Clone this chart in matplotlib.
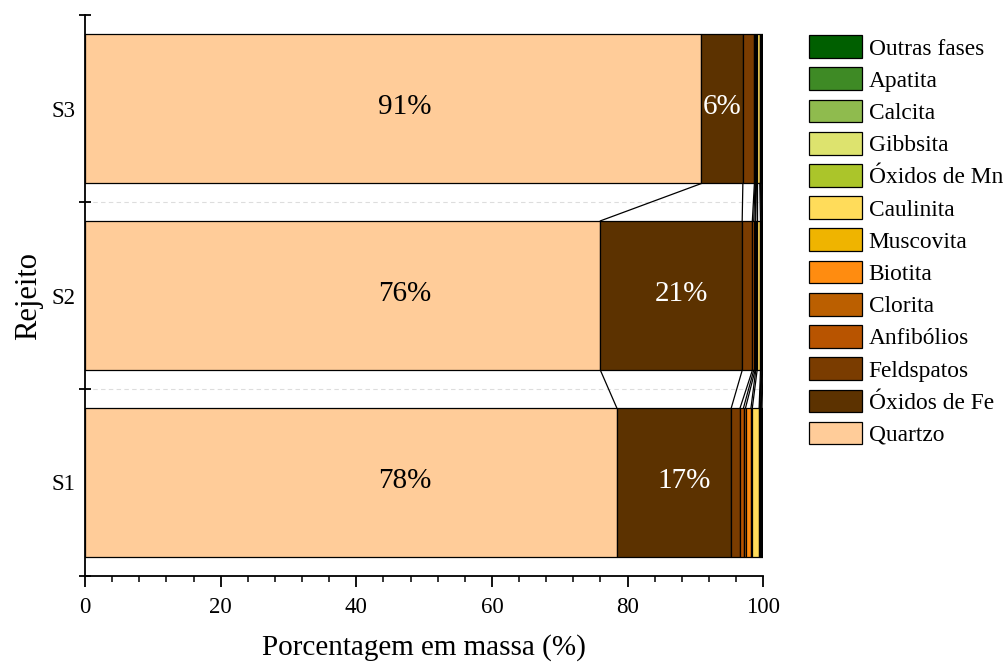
import numpy as np
import matplotlib
matplotlib.use("Agg")
import matplotlib.pyplot as plt

plt.rcParams['font.family'] = ['Liberation Serif', 'DejaVu Serif']

amostras = ["S1", "S2", "S3"]
fases = ["Quartzo", "Óxidos de Fe", "Feldspatos", "Anfibólios", "Clorita", "Biotita",
         "Muscovita", "Caulinita", "Óxidos de Mn", "Gibbsita", "Calcita", "Apatita", "Outras fases"]
cores = ["#FFCC99", "#5C3200", "#7A3C00", "#B85400", "#BB5F00", "#FF8C10",
         "#EFB400", "#FFDC5A", "#ABC52A", "#DDE36E", "#8FBB4E", "#3E8A25", "#005F00"]

# % em massa por fase (S1, S2, S3)
quartzo = [78.4, 76.0, 90.9]
oxidos_fe = [16.9, 20.9, 6.1]
feldspatos = [1.3, 1.5, 1.7]
anfibolios = [0.5, 0.2, 0.1]
clorita = [0.3, 0.2, 0.1]
biotita = [0.8, 0.1, 0.1]
muscovita = [0.2, 0.2, 0.1]
caulinita = [1.0, 0.5, 0.4]
oxidos_mn = [0.1, 0.1, 0.1]
gibbsita = [0.1, 0.1, 0.1]
calcita = [0.1, 0.1, 0.1]
apatita = [0.1, 0.1, 0.1]
outras = [0.2, 0.1, 0.1]

dados = [quartzo, oxidos_fe, feldspatos, anfibolios, clorita, biotita, muscovita,
         caulinita, oxidos_mn, gibbsita, calcita, apatita, outras]

fig = plt.figure(figsize=(10.07, 6.65), dpi=100)
ax = fig.add_axes([0.0844, 0.134, 0.6735, 0.843])

y = np.arange(len(amostras))
h = 0.8
left = np.zeros(len(amostras))
handles = []
for nome, vals, cor in zip(fases, dados, cores):
    vals = np.array(vals)
    b = ax.barh(y, vals, height=h, left=left, color=cor, edgecolor="black", linewidth=0.9, label=nome)
    handles.append(b)
    for i in range(len(amostras)):
        if vals[i] >= 5:
            if nome == "Quartzo":
                xt, tc = 47.2, "black"
            else:
                xt, tc = left[i] + vals[i] / 2, "white"
                if vals[i] > 10:
                    xt += 1.5
            ax.text(xt, y[i] + 0.01, "%d%%" % round(vals[i]), ha="center", va="center",
                    fontsize=21, color=tc)
    left = left + vals
    # linhas de ligacao entre barras
    for i in range(len(amostras) - 1):
        ax.plot([left[i], left[i + 1]], [y[i] + h / 2, y[i + 1] - h / 2], color="black", lw=0.9)

ax.set_xlim(0, 100)
ax.set_ylim(-0.5, 2.5)
for s in ["top", "right"]:
    ax.spines[s].set_visible(False)
ax.spines["left"].set_linewidth(1.3)
ax.spines["bottom"].set_linewidth(1.3)

ax.set_xticks(np.arange(0, 101, 20))
ax.set_xticks(np.arange(0, 101, 4), minor=True)
ax.tick_params(axis="x", which="major", length=8, width=1.3, direction="out", labelsize=16.5, pad=7)
ax.tick_params(axis="x", which="minor", length=4, width=1.1, direction="out")

ax.set_yticks([-0.5, 0.5, 1.5, 2.5])
ax.set_yticklabels([])
ax.set_yticks(y, amostras, minor=True)
ax.tick_params(axis="y", which="major", length=8, width=1.3, direction="inout")
ax.tick_params(axis="y", which="minor", length=0, labelsize=16.5, pad=7)

for g in [0.5, 1.5]:
    ax.axhline(g, color="#DDDDDD", lw=0.8, ls=(0, (4, 3)), zorder=0)

ax.set_xlabel("Porcentagem em massa (%)", fontsize=21, labelpad=12)
ax.set_ylabel("Rejeito", fontsize=22, labelpad=6)

leg = fig.legend(handles[::-1], fases[::-1], loc="upper left", bbox_to_anchor=(0.803, 0.947),
                 frameon=False, fontsize=16.8, handlelength=2.27, handleheight=1.12,
                 labelspacing=0.34, handletextpad=0.3, borderaxespad=0, borderpad=0)

fig.savefig("out.png", dpi=100)
